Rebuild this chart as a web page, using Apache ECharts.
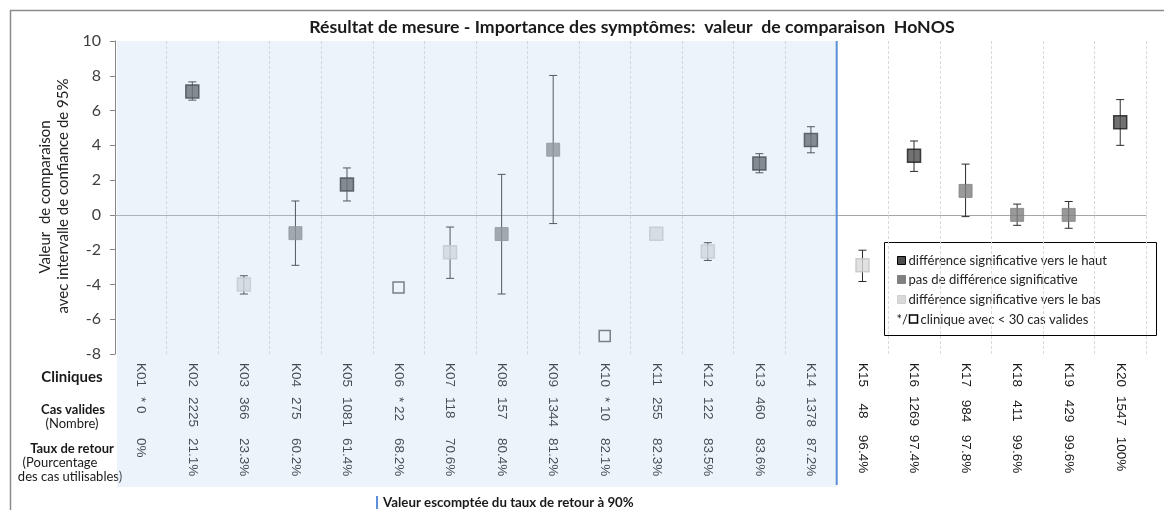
<!DOCTYPE html>
<html>
<head>
<meta charset="utf-8">
<script src="https://cdn.jsdelivr.net/npm/echarts@6/dist/echarts.min.js"></script>
<style>
  html, body { margin: 0; padding: 0; background: #fff; }
  #chart { width: 1164px; height: 510px; }
</style>
</head>
<body>
<div id="chart"></div>
<script>
// clinics K01..K20
var categories = ['K01', 'K02', 'K03', 'K04', 'K05', 'K06', 'K07', 'K08', 'K09', 'K10',
  'K11', 'K12', 'K13', 'K14', 'K15', 'K16', 'K17', 'K18', 'K19', 'K20'];
var values = [null, 7.1, -4.0, -1.05, 1.75, -4.17, -2.15, -1.1, 3.75, -6.96,
  -1.08, -2.1, 2.95, 4.3, -2.9, 3.4, 1.38, 0, 0, 5.33];
var lower = [null, 6.6, -4.55, -2.9, 0.8, null, -3.65, -4.55, -0.5, null,
  null, -2.62, 2.42, 3.57, -3.83, 2.5, -0.1, -0.6, -0.77, 4.0];
var upper = [null, 7.65, -3.5, 0.8, 2.7, null, -0.7, 2.33, 8.02, null,
  null, -1.6, 3.52, 5.07, -2.03, 4.25, 2.92, 0.62, 0.77, 6.63];
// up = significant up, none = no significant diff, down = significant down, small = < 30 cases
var groups = ['', 'up', 'down', 'none', 'up', 'small', 'down', 'none', 'none', 'small',
  'down', 'down', 'up', 'up', 'down', 'up', 'none', 'none', 'none', 'up'];
var validCases = ['* 0', '2225', '366', '275', '1081', '* 22', '118', '157', '1344', '* 10',
  '255', '122', '460', '1378', '48', '1269', '984', '411', '429', '1547'];
var returnRates = ['0%', '21.1%', '23.3%', '60.2%', '61.4%', '68.2%', '70.6%', '80.4%', '81.2%', '82.1%',
  '82.3%', '83.5%', '83.6%', '87.2%', '96.4%', '97.4%', '97.8%', '99.6%', '99.6%', '100%'];
var yMin = -8, yMax = 10, yStep = 2;
var shadedUntil = 13; // last clinic (index) below the 90% expected return rate

var chart = echarts.init(document.getElementById('chart'));

var styles = {
  up: { color: '#4d4d4d', borderColor: '#1a1a1a', borderWidth: 1.5 },
  none: { color: '#808080', borderColor: '#808080', borderWidth: 1 },
  down: { color: '#d9d9d9', borderColor: '#c4c4c4', borderWidth: 1.5 },
  small: { color: '#ffffff', borderColor: '#3a3a3a', borderWidth: 1.5 }
};

function pointsOf(g) {
  var out = [];
  values.forEach(function (v, i) {
    if (groups[i] === g && v !== null) out.push([i, v]);
  });
  return out;
}

var errData = [];
lower.forEach(function (lo, i) {
  if (lo !== null) errData.push([i, lo, upper[i]]);
});

function renderErr(params, api) {
  var x = api.value(0);
  var a = api.coord([x, api.value(1)]);
  var b = api.coord([x, api.value(2)]);
  var c = 4;
  var st = { stroke: '#2b2b2b', lineWidth: 1 };
  return {
    type: 'group',
    children: [
      { type: 'line', shape: { x1: a[0], y1: a[1], x2: b[0], y2: b[1] }, style: st },
      { type: 'line', shape: { x1: a[0] - c, y1: a[1], x2: a[0] + c, y2: a[1] }, style: st },
      { type: 'line', shape: { x1: b[0] - c, y1: b[1], x2: b[0] + c, y2: b[1] }, style: st }
    ]
  };
}

function renderZone(params, api) {
  var cs = params.coordSys;
  var bw = api.size([1, 0])[0];
  var a = api.coord([api.value(0), 0]);
  var b = api.coord([api.value(2), 0]);
  var x0 = a[0] - bw / 2 + 2;
  var x1 = b[0] + bw / 2;
  return {
    type: 'group',
    children: [
      { type: 'rect', shape: { x: x0, y: cs.y, width: x1 - x0, height: cs.height + 133 },
        style: { fill: 'rgba(189,211,241,0.27)' } },
      { type: 'line', shape: { x1: x1, y1: cs.y, x2: x1, y2: cs.y + cs.height + 131 },
        style: { stroke: '#5b8fd6', lineWidth: 2 } }
    ]
  };
}

function rowAxis(labels, from, to, margin, align) {
  return {
    type: 'category',
    data: categories,
    position: 'bottom',
    axisLine: { show: false },
    axisTick: { show: false },
    splitLine: { show: false },
    axisLabel: {
      interval: 0,
      rotate: -90,
      margin: margin,
      align: align,
      fontFamily: 'Liberation Sans',
      fontSize: 13.5,
      color: '#1a1a1a',
      formatter: function (v, i) { return (i >= from && i <= to) ? labels[i] : ''; }
    }
  };
}

var font = 'Lato';
var rowLabelX = 72;
var legendFont = '13.1px ' + font;

chart.setOption({
  animation: false,
  grid: { left: 115, right: 18, top: 41, bottom: 156 },
  xAxis: [
    {
      type: 'category',
      data: categories,
      axisLine: { onZero: true, lineStyle: { color: '#a6a6a6', width: 1 } },
      axisTick: { show: false },
      axisLabel: { show: false },
      splitLine: { show: true, lineStyle: { color: '#d9d9d9', type: [3, 2] } }
    },
    rowAxis(categories, 0, 19, 9, undefined),
    rowAxis(validCases, 0, 13, 43, undefined),
    rowAxis(validCases, 14, 19, 57, 'center'),
    rowAxis(returnRates, 0, 13, 84, undefined),
    rowAxis(returnRates, 14, 19, 100, 'center')
  ],
  yAxis: {
    type: 'value',
    min: yMin,
    max: yMax,
    interval: yStep,
    axisLine: { show: true, lineStyle: { color: '#868686' } },
    axisTick: { show: true, length: 5, lineStyle: { color: '#868686' } },
    splitLine: { show: false },
    axisLabel: { fontFamily: font, fontSize: 16, color: '#404040', margin: 14 }
  },
  series: [
    {
      name: 'ic', type: 'custom', renderItem: renderErr, data: errData,
      encode: { x: 0, y: [1, 2] }, z: 1
    },
    { name: 'up', type: 'scatter', symbol: 'rect', symbolSize: 13, data: pointsOf('up'), itemStyle: styles.up, z: 3 },
    { name: 'none', type: 'scatter', symbol: 'rect', symbolSize: 13, data: pointsOf('none'), itemStyle: styles.none, z: 3 },
    { name: 'down', type: 'scatter', symbol: 'rect', symbolSize: 13, data: pointsOf('down'), itemStyle: styles.down, z: 3 },
    { name: 'small', type: 'scatter', symbol: 'rect', symbolSize: 11, data: pointsOf('small'), itemStyle: styles.small, z: 3 },
    {
      name: 'zone', type: 'custom', renderItem: renderZone, data: [[0, 0, shadedUntil]],
      encode: { x: [0, 2], y: 1 }, silent: true, z: 10
    }
  ],
  graphic: [
    // outer frame
    { type: 'polyline', shape: { points: [[10.5, 510], [10.5, 10.5], [1164, 10.5]] },
      style: { stroke: '#8c8c8c', lineWidth: 1.5, fill: null }, silent: true },
    // title
    { type: 'text', x: 632, y: 27, style: {
      text: 'Résultat de mesure - Importance des symptômes:  valeur  de comparaison  HoNOS',
      font: 'bold 17.7px ' + font, fill: '#1a1a1a', align: 'center', verticalAlign: 'middle' } },
    // y axis name (two lines)
    { type: 'text', x: 45, y: 197, rotation: Math.PI / 2, style: {
      text: 'Valeur  de comparaison', font: '15px ' + font, fill: '#222',
      align: 'center', verticalAlign: 'middle' } },
    { type: 'text', x: 63, y: 196, rotation: Math.PI / 2, style: {
      text: 'avec intervalle de confiance de 95%', font: '15px ' + font, fill: '#222',
      align: 'center', verticalAlign: 'middle' } },
    // table row labels
    { type: 'text', x: rowLabelX, y: 377, style: { text: 'Cliniques', font: 'bold 15px ' + font, fill: '#1a1a1a', align: 'center', verticalAlign: 'middle' } },
    { type: 'text', x: rowLabelX + 1, y: 410, style: { text: 'Cas valides', font: 'bold 13px ' + font, fill: '#1a1a1a', align: 'center', verticalAlign: 'middle' } },
    { type: 'text', x: rowLabelX, y: 424, style: { text: '(Nombre)', font: '13px ' + font, fill: '#1a1a1a', align: 'center', verticalAlign: 'middle' } },
    { type: 'text', x: rowLabelX, y: 449, style: { text: 'Taux de retour', font: 'bold 13px ' + font, fill: '#1a1a1a', align: 'center', verticalAlign: 'middle' } },
    { type: 'text', x: rowLabelX - 12, y: 463, style: { text: '(Pourcentage', font: '13px ' + font, fill: '#1a1a1a', align: 'center', verticalAlign: 'middle' } },
    { type: 'text', x: rowLabelX - 2, y: 477, style: { text: 'des cas utilisables)', font: '13px ' + font, fill: '#1a1a1a', align: 'center', verticalAlign: 'middle' } },
    // footnote
    { type: 'rect', shape: { x: 376, y: 496, width: 2, height: 13 }, style: { fill: '#5b8fd6' } },
    { type: 'text', x: 383, y: 503, style: { text: 'Valeur escomptée du taux de retour à 90%', font: 'bold 13.3px ' + font, fill: '#1a1a1a', verticalAlign: 'middle' } },
    // legend
    {
      type: 'group', x: 884.5, y: 242.5, z: 20,
      children: [
        { type: 'rect', shape: { x: 0, y: 0, width: 272, height: 93 }, style: { fill: '#fff', stroke: '#000', lineWidth: 1 } },
        { type: 'rect', shape: { x: 13, y: 14, width: 8, height: 8 }, style: { fill: '#4d4d4d', stroke: '#000', lineWidth: 1 } },
        { type: 'text', x: 24, y: 18, style: { text: 'différence significative vers le haut', font: legendFont, fill: '#222', verticalAlign: 'middle' } },
        { type: 'rect', shape: { x: 13, y: 33, width: 8, height: 8 }, style: { fill: '#808080', stroke: '#808080', lineWidth: 1 } },
        { type: 'text', x: 24, y: 37.5, style: { text: 'pas de différence significative', font: legendFont, fill: '#222', verticalAlign: 'middle' } },
        { type: 'rect', shape: { x: 13, y: 53, width: 8, height: 8 }, style: { fill: '#d9d9d9', stroke: '#d0d0d0', lineWidth: 1 } },
        { type: 'text', x: 24, y: 57.5, style: { text: 'différence significative vers le bas', font: legendFont, fill: '#222', verticalAlign: 'middle' } },
        { type: 'text', x: 12, y: 77, style: { text: '*/', font: legendFont, fill: '#222', verticalAlign: 'middle' } },
        { type: 'rect', shape: { x: 25, y: 72.5, width: 8, height: 8 }, style: { fill: '#fff', stroke: '#000', lineWidth: 1.5 } },
        { type: 'text', x: 36, y: 77, style: { text: 'clinique avec < 30 cas valides', font: legendFont, fill: '#222', verticalAlign: 'middle' } }
      ]
    }
  ]
});
</script>
</body>
</html>
